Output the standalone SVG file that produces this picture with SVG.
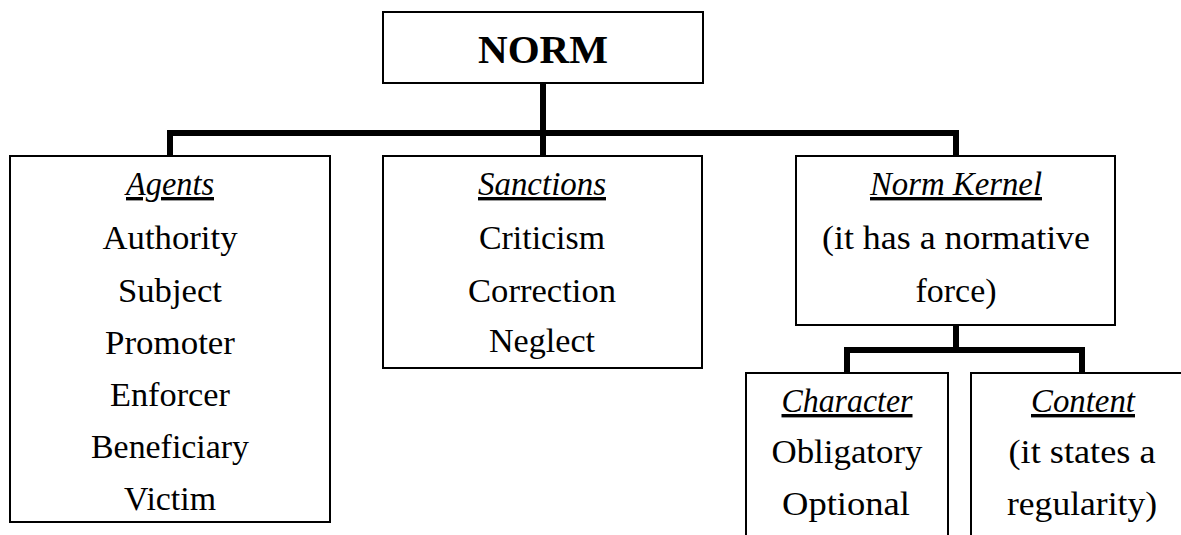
<svg xmlns="http://www.w3.org/2000/svg" width="1181" height="535" viewBox="0 0 1181 535">
  <style>
    .box { fill: #ffffff; stroke: #000000; stroke-width: 2; }
    .conn { fill: none; stroke: #000000; stroke-width: 6; stroke-linejoin: miter; stroke-linecap: butt; }
    text { font-family: "Liberation Serif", "Times New Roman", serif; fill: #000000; text-anchor: middle; }
    .title { font-size: 40px; font-weight: bold; }
    .item { font-size: 34px; }
    .head { font-size: 34px; font-style: italic; text-decoration: underline; }
  </style>
  <rect width="1181" height="535" fill="#ffffff"/>
  <g id="connectors">
    <path class="conn" d="M543 83 V156"/>
    <path class="conn" d="M170 156 V133 H956 V156"/>
    <path class="conn" d="M956 325 V350"/>
    <path class="conn" d="M847 373 V350 H1082 V373"/>
  </g>
  <g id="norm">
    <rect class="box" x="383" y="12" width="320" height="71"/>
    <text class="title" x="543" y="63" textLength="130" lengthAdjust="spacingAndGlyphs">NORM</text>
  </g>
  <g id="agents">
    <rect class="box" x="10" y="156" width="320" height="366"/>
    <text class="head" x="170" y="195" textLength="88" lengthAdjust="spacingAndGlyphs">Agents</text>
    <text class="item" x="170" y="249" textLength="135" lengthAdjust="spacingAndGlyphs">Authority</text>
    <text class="item" x="170" y="302" textLength="104" lengthAdjust="spacingAndGlyphs">Subject</text>
    <text class="item" x="170" y="354" textLength="130" lengthAdjust="spacingAndGlyphs">Promoter</text>
    <text class="item" x="170" y="406" textLength="120" lengthAdjust="spacingAndGlyphs">Enforcer</text>
    <text class="item" x="170" y="458" textLength="158" lengthAdjust="spacingAndGlyphs">Beneficiary</text>
    <text class="item" x="170" y="510" textLength="92" lengthAdjust="spacingAndGlyphs">Victim</text>
  </g>
  <g id="sanctions">
    <rect class="box" x="383" y="156" width="319" height="212"/>
    <text class="head" x="542" y="195" textLength="128" lengthAdjust="spacingAndGlyphs">Sanctions</text>
    <text class="item" x="542" y="249" textLength="126" lengthAdjust="spacingAndGlyphs">Criticism</text>
    <text class="item" x="542" y="302" textLength="148" lengthAdjust="spacingAndGlyphs">Correction</text>
    <text class="item" x="542" y="352" textLength="106" lengthAdjust="spacingAndGlyphs">Neglect</text>
  </g>
  <g id="norm-kernel">
    <rect class="box" x="796" y="156" width="319" height="169"/>
    <text class="head" x="956" y="195" textLength="172" lengthAdjust="spacingAndGlyphs">Norm Kernel</text>
    <text class="item" x="956" y="249" textLength="268" lengthAdjust="spacingAndGlyphs">(it has a normative</text>
    <text class="item" x="956" y="302" textLength="81" lengthAdjust="spacingAndGlyphs">force)</text>
  </g>
  <g id="character">
    <rect class="box" x="746" y="373" width="202" height="190"/>
    <text class="head" x="847" y="412" textLength="131" lengthAdjust="spacingAndGlyphs">Character</text>
    <text class="item" x="847" y="463" textLength="151" lengthAdjust="spacingAndGlyphs">Obligatory</text>
    <text class="item" x="846" y="515" textLength="128" lengthAdjust="spacingAndGlyphs">Optional</text>
  </g>
  <g id="content">
    <rect class="box" x="971" y="373" width="230" height="190"/>
    <text class="head" x="1083" y="412" textLength="104" lengthAdjust="spacingAndGlyphs">Content</text>
    <text class="item" x="1082" y="463" textLength="147" lengthAdjust="spacingAndGlyphs">(it states a</text>
    <text class="item" x="1082" y="515" textLength="150" lengthAdjust="spacingAndGlyphs">regularity)</text>
  </g>
</svg>
